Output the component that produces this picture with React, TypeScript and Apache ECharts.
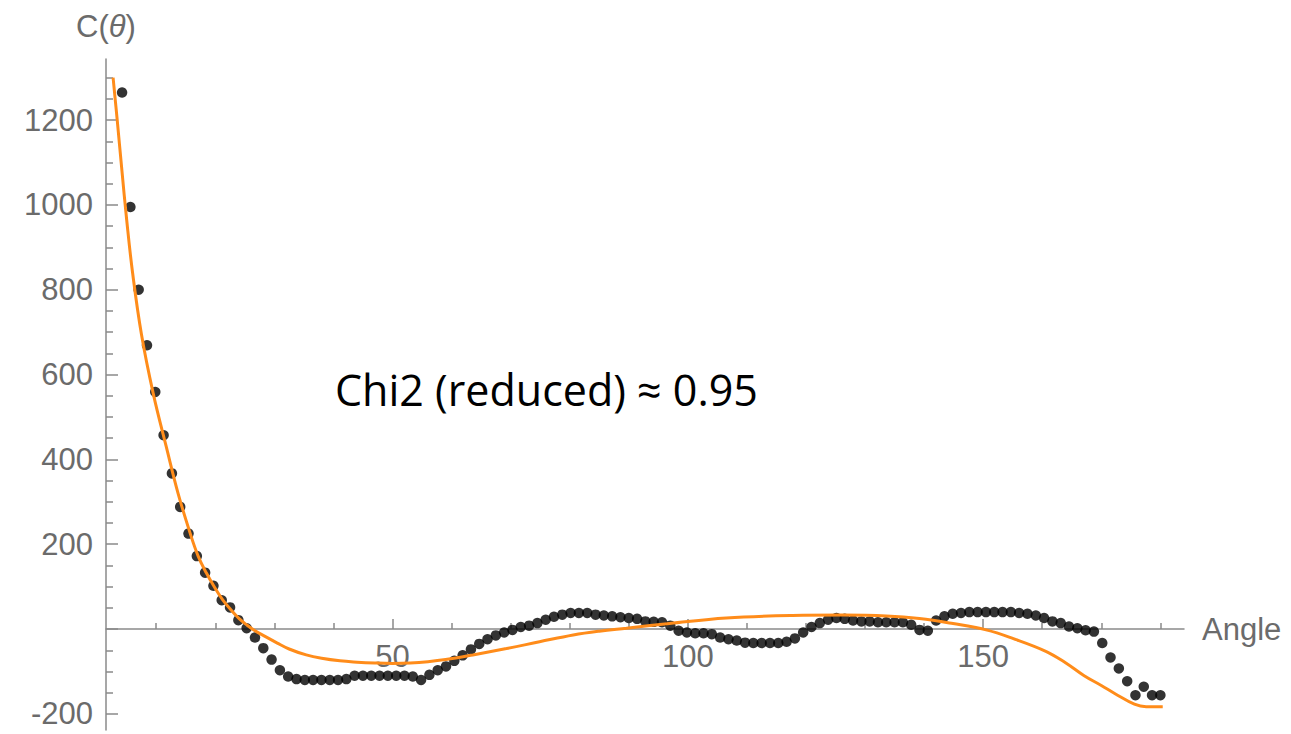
import React, { useEffect, useRef } from "react";
import * as echarts from "echarts";

// measured correlation C(theta) vs angle (degrees)
const angles = [
  4.22, 5.63, 7.03, 8.44, 9.84, 11.25, 12.66, 14.06, 15.47, 16.88, 18.28, 19.69, 21.09, 22.5, 23.91, 25.31,
  26.72, 28.13, 29.53, 30.94, 32.34, 33.75, 35.16, 36.56, 37.97, 39.38, 40.78, 42.19, 43.59, 45, 46.41, 47.81, 49.22, 50.63, 52.03, 53.44,
  54.84, 56.25, 57.66, 59.06, 60.47, 61.88, 63.28, 64.69, 66.09, 67.5, 68.91, 70.31, 71.72, 73.13, 74.53, 75.94, 77.34, 78.75, 80.16, 81.56,
  82.97, 84.38, 85.78, 87.19, 88.59, 90, 91.41, 92.81, 94.22, 95.63, 97.03, 98.44, 99.84, 101.25, 102.66, 104.06, 105.47, 106.88, 108.28, 109.69,
  111.09, 112.5, 113.91, 115.31, 116.72, 118.13, 119.53, 120.94, 122.34, 123.75, 125.16, 126.56, 127.97, 129.38, 130.78, 132.19, 133.59, 135, 136.41, 137.81,
  139.22, 140.63, 142.03, 143.44, 144.84, 146.25, 147.66, 149.06, 150.47, 151.88, 153.28, 154.69, 156.09, 157.5, 158.91, 160.31, 161.72, 163.13, 164.53, 165.94,
  167.34, 168.75, 170.16, 171.56, 172.97, 174.38, 175.78, 177.19, 178.59, 180,
];
const measured = [
  1265, 995, 800, 669, 559, 457, 367, 288, 225, 172, 133, 102, 68, 51, 21, 2,
  -20, -45, -72, -97, -112, -118, -120, -120, -120, -120, -120, -118, -110, -110, -110, -110, -110, -110, -110, -112,
  -120, -108, -97, -88, -75, -62, -48, -35, -24, -15, -8, -2, 5, 8, 14, 22, 29, 34, 38, 38,
  38, 34, 32, 30, 28, 26, 24, 18, 17, 16, 8, -4, -8, -10, -10, -12, -20, -24, -27, -32,
  -33, -33, -33, -33, -30, -22, -8, 5, 14, 22, 26, 24, 20, 18, 18, 16, 16, 16, 16, 10,
  -2, -4, 20, 30, 36, 38, 40, 40, 40, 40, 40, 40, 38, 36, 32, 26, 18, 14, 6, 2,
  -3, -6, -33, -67, -93, -123, -156, -136, -156, -156,
];

// fitted model curve
const fitAngles = [
  2.7, 3.4, 4.2, 5.0, 6.0, 7.5, 9.5, 11.7, 13.7, 15.7, 17.1, 18.5, 19.9, 21.2, 22.6, 24.0, 25.4, 26.6, 28.5, 30.5,
  32.5, 35.4, 38, 41.1, 44, 47, 50, 53, 56, 59, 63.6, 69.3, 74.9, 80.6, 85, 89.6, 96.9, 106.5, 117.7, 126.2,
  133.6, 139.2, 144.9, 150.5, 155, 160.7, 164, 167.1, 170, 172.4, 175.6, 177.6, 180.4,
];
const fitValues = [
  1300, 1200, 1080, 965, 840, 695, 555, 430, 320, 228, 172, 132, 98, 70, 46, 25, 9, -3, -18, -33,
  -47, -61, -69, -75, -78, -80, -81, -80, -77, -72, -61, -46, -30, -14, -5, 2, 13, 26, 32, 33,
  31, 25, 13, -2, -22, -53, -80, -110, -133, -153, -177, -183, -183,
];

const yMajorTicks = [-200, 0, 200, 400, 600, 800, 1000, 1200];
const yLabels = [-200, 200, 400, 600, 800, 1000, 1200];
const yMinorTicks = [-150, -100, -50, 50, 100, 150, 250, 300, 350, 450, 500, 550, 650, 700, 750, 850, 900, 950, 1050, 1100, 1150, 1250, 1300];
const xMajorTicks = [50, 100, 150];
const xMinorTicks = [10, 20, 30, 40, 60, 70, 80, 90, 110, 120, 130, 140, 160, 170, 180];

const annotation = "Chi2 (reduced) \u2248 0.95";

const AX = "#8a8a8a";
const LBL = "#6b6b6b";
const FONT = "'Liberation Sans', Arial, sans-serif";
const FS = 31;

export default function App() {
  const ref = useRef<HTMLDivElement>(null);
  useEffect(() => {
    if (!ref.current) return;
    const chart = echarts.init(ref.current, null, { renderer: "svg" });
    const xMin = 1.5, xMax = 184, yMin = -238, yMax = 1344;
    const fmt = (v: number) => String(v);
    const option: any = {
      animation: false,
      backgroundColor: "#ffffff",
      grid: [
        { left: 106, right: 107, top: 59, bottom: 4, containLabel: false, outerBoundsMode: "none" },
        // helper grid whose bottom edge sits on the zero line, used only for the x labels
        { left: 106, right: 107, top: 59, bottom: 105, containLabel: false, outerBoundsMode: "none" },
      ],
      xAxis: [
        {
          type: "value", gridIndex: 0, min: xMin, max: xMax, position: "bottom",
          axisLine: { show: true, onZero: true, onZeroAxisIndex: 0, lineStyle: { color: AX, width: 1.5 } },
          axisTick: { show: true, inside: true, length: 10, customValues: xMajorTicks, lineStyle: { color: AX, width: 1.5 } },
          axisLabel: { show: false },
          splitLine: { show: false },
        },
        {
          type: "value", gridIndex: 0, min: xMin, max: xMax, position: "bottom",
          axisLine: { show: false, onZero: true, onZeroAxisIndex: 0 },
          axisTick: { show: true, inside: true, length: 6, customValues: xMinorTicks, lineStyle: { color: AX, width: 1.5 } },
          axisLabel: { show: false },
          splitLine: { show: false },
        },
        {
          type: "value", gridIndex: 1, min: xMin, max: xMax, position: "bottom",
          axisLine: { show: false, onZero: false },
          axisTick: { show: false },
          axisLabel: { show: true, customValues: xMajorTicks, formatter: fmt, color: LBL, fontSize: FS, fontFamily: FONT, margin: 12 },
          splitLine: { show: false },
          name: "Angle", nameLocation: "end", nameGap: 18,
          nameTextStyle: { color: LBL, fontSize: FS, fontFamily: FONT, verticalAlign: "middle" },
        },
      ],
      yAxis: [
        {
          type: "value", gridIndex: 0, min: yMin, max: yMax, position: "left",
          axisLine: { show: true, lineStyle: { color: AX, width: 1.5 } },
          axisTick: { show: true, inside: true, length: 12, customValues: yMajorTicks, lineStyle: { color: AX, width: 1.5 } },
          axisLabel: { show: true, customValues: yLabels, formatter: fmt, color: LBL, fontSize: FS, fontFamily: FONT, margin: 13 },
          splitLine: { show: false },
          name: "C({i|\u03b8})", nameLocation: "end", nameGap: 17,
          nameTextStyle: {
            color: LBL, fontSize: FS, fontFamily: FONT, align: "center",
            rich: { i: { fontStyle: "italic", color: LBL, fontSize: FS, fontFamily: FONT } },
          },
        },
        {
          type: "value", gridIndex: 0, min: yMin, max: yMax, position: "left",
          axisLine: { show: false },
          axisTick: { show: true, inside: true, length: 7, customValues: yMinorTicks, lineStyle: { color: AX, width: 1.5 } },
          axisLabel: { show: false },
          splitLine: { show: false },
        },
        {
          type: "value", gridIndex: 1, min: 0, max: 1, show: false,
        },
      ],
      series: [
        {
          type: "scatter", xAxisIndex: 0, yAxisIndex: 0,
          data: angles.map((a, i) => [a, measured[i]]),
          symbol: "circle", symbolSize: 10.5,
          itemStyle: { color: "#000000" },
          silent: true,
        },
        {
          type: "line", xAxisIndex: 0, yAxisIndex: 0,
          data: fitAngles.map((a, i) => [a, fitValues[i]]),
          smooth: 0.4, showSymbol: false, symbol: "none",
          lineStyle: { color: "#ff8c1a", width: 3 },
          silent: true,
        },
      ],
      graphic: [
        {
          type: "text", left: 335, top: 368,
          style: { text: annotation, fill: "#000000", fontSize: 43, fontFamily: "'Open Sans', sans-serif" },
        },
      ],
    };
    chart.setOption(option);
    return () => chart.dispose();
  }, []);
  return <div ref={ref} style={{ position: "fixed", left: 0, top: 0, width: 1291, height: 734 }} />;
}
